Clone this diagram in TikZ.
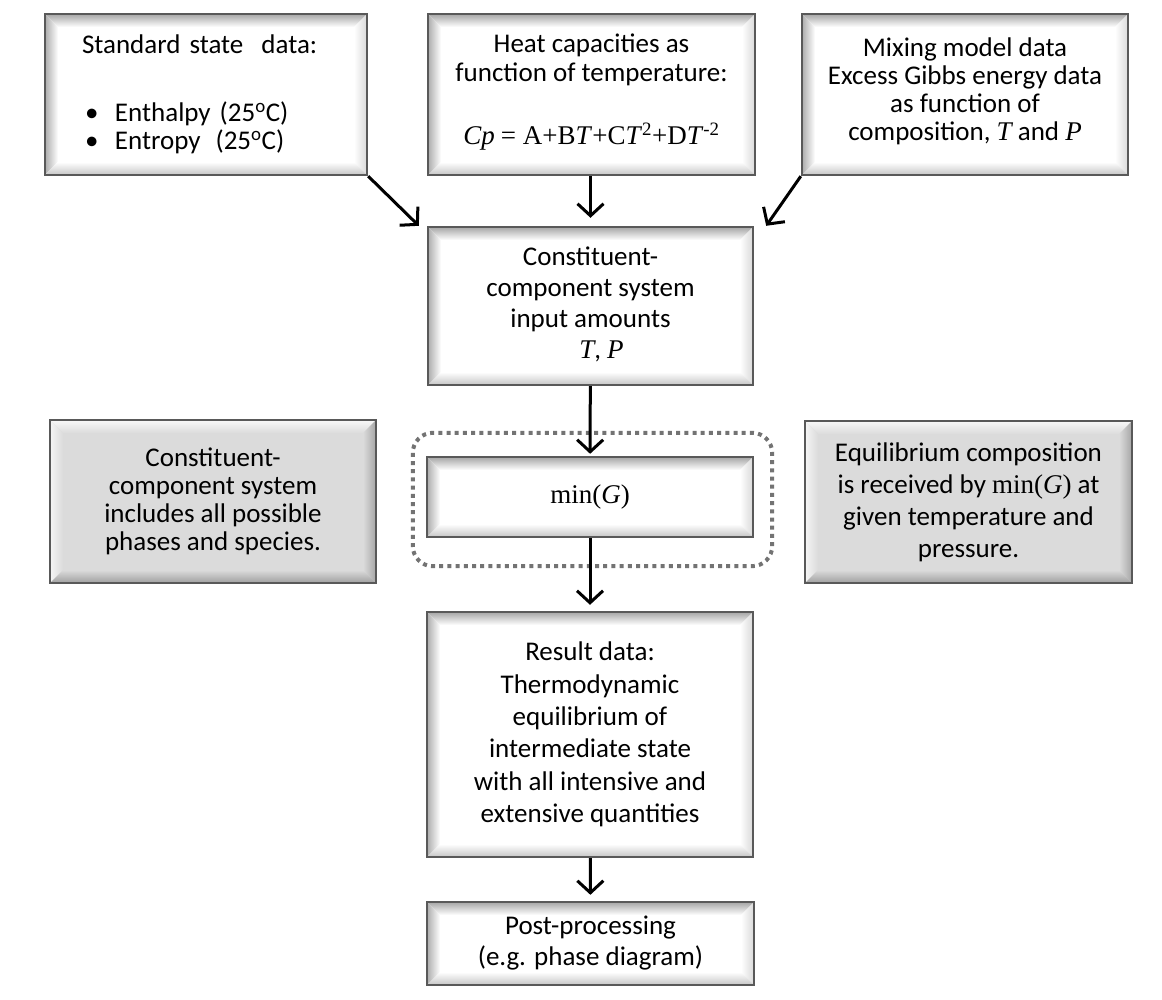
\documentclass[tikz,border=0pt]{standalone}
\usepackage{fontspec}
\setmainfont{Carlito}
\newfontfamily\tms{Liberation Serif}
\usetikzlibrary{arrows.meta}
\tikzset{
  bev/.style n args={5}{path picture={
    \coordinate (bnw) at (path picture bounding box.north west);
    \coordinate (bne) at (path picture bounding box.north east);
    \coordinate (bsw) at (path picture bounding box.south west);
    \coordinate (bse) at (path picture bounding box.south east);
    \shade[top color=#1, bottom color=#5] (bnw) -- (bne) -- ([xshift=-13pt,yshift=-13pt]bne) -- ([xshift=13pt,yshift=-13pt]bnw) -- cycle;
    \shade[left color=#2, right color=#5] (bnw) -- ([xshift=13pt,yshift=-13pt]bnw) -- ([xshift=13pt,yshift=13pt]bsw) -- (bsw) -- cycle;
    \shade[left color=#5, right color=#3] (bne) -- (bse) -- ([xshift=-13pt,yshift=13pt]bse) -- ([xshift=-13pt,yshift=-13pt]bne) -- cycle;
    \shade[top color=#5, bottom color=#4] (bsw) -- (bse) -- ([xshift=-13pt,yshift=13pt]bse) -- ([xshift=13pt,yshift=13pt]bsw) -- cycle;
  }},
  box/.style={draw=black!65, line width=2.4pt, inner sep=0pt, align=center, minimum width=326pt,
    font=\fontsize{27}{28}\selectfont},
  wbox/.style={box, fill=white, bev={gray!70}{gray!65}{gray!30}{gray!45}{white}},
  gbox/.style={box, fill=gray!28, bev={gray!5}{gray!8}{gray!70}{gray!75}{gray!28}},
  arr/.style={-{Straight Barb[length=12pt,width=26pt,line width=3pt]}, line width=3pt, shorten >=6pt},
  dotbox/.style={draw=black!55, line width=4pt, dash pattern=on 4pt off 4.2pt, rounded corners=20pt}
}
\begin{document}
\begin{tikzpicture}[x=1pt,y=-1pt]
\useasboundingbox (0,0) rectangle (1162,1000);
\node[wbox, minimum width=322pt, minimum height=161pt, text width=248pt, align=left, inner xsep=37pt] (std) at (206,94.5)
  {Standard state\ \ data:\\[40pt]\hspace*{3pt}\makebox[30pt][l]{\textbullet}Enthalpy (25\textsuperscript{o}C)\\\hspace*{3pt}\makebox[30pt][l]{\textbullet}Entropy\hspace{15pt}(25\textsuperscript{o}C)};
\node[wbox, minimum width=327pt, minimum height=161pt, font=\fontsize{27}{29}\selectfont] (heat) at (591.5,94.5)
  {Heat capacities as\\function of temperature:\\[34pt]{\tms\itshape Cp} {\tms= A+B\textit{T}+C\textit{T}\textsuperscript{2}+D\textit{T}\textsuperscript{-2}}\\[-19pt]\mbox{}};
\node[wbox, minimum height=161pt] (mix) at (965,94.5)
  {Mixing model data\\Excess Gibbs energy data\\as function of\\composition, {\tms\itshape T} and {\tms\itshape P}\\[-18pt]\mbox{}};
\node[wbox, minimum width=325pt, minimum height=158pt, font=\fontsize{27}{31}\selectfont] (cons) at (590.5,306)
  {\mbox{}\\[-15pt]Constituent-\\component system\\input amounts\\\hspace*{22pt}{\tms\itshape T}, {\tms\itshape P}};
\node[wbox, minimum height=80pt] (ming) at (590,497) {\tms min(\textit{G})};
\node[gbox, minimum height=163pt] (lnote) at (213,501.5)
  {Constituent-\\component system\\includes all possible\\phases and species.};
\node[gbox, minimum width=327pt, minimum height=162pt, font=\fontsize{27}{32}\selectfont] (rnote) at (968.5,502)
  {Equilibrium composition\\is received by {\tms min(\textit{G})} at\\given temperature and\\pressure.};
\node[wbox, minimum height=245pt, font=\fontsize{27}{32.3}\selectfont] (res) at (590,734.5)
  {Result data:\\Thermodynamic\\equilibrium of\\intermediate state\\with all intensive and\\extensive quantities};
\node[wbox, minimum width=327pt, minimum height=83pt, font=\fontsize{27}{31}\selectfont] (post) at (590.5,943.5)
  {Post-processing\\(e.g. phase diagram)};
\draw[dotbox] ([xshift=-13pt,yshift=23pt]ming.north west) rectangle ([xshift=18pt,yshift=-28pt]ming.south east);
\draw[arr, shorten >=0pt] (std.south east) -- ([xshift=-8pt]cons.north west);
\draw[arr, shorten >=0pt] (mix.south west) -- ([xshift=12pt]cons.north east);
\draw[arr, shorten >=8pt] (heat.south -| cons.north) -- (cons.north);
\draw[arr, shorten >=2pt] (cons) -- (ming);
\draw[arr] (ming) -- (res);
\draw[arr] (res) -- (post);
\end{tikzpicture}
\end{document}
